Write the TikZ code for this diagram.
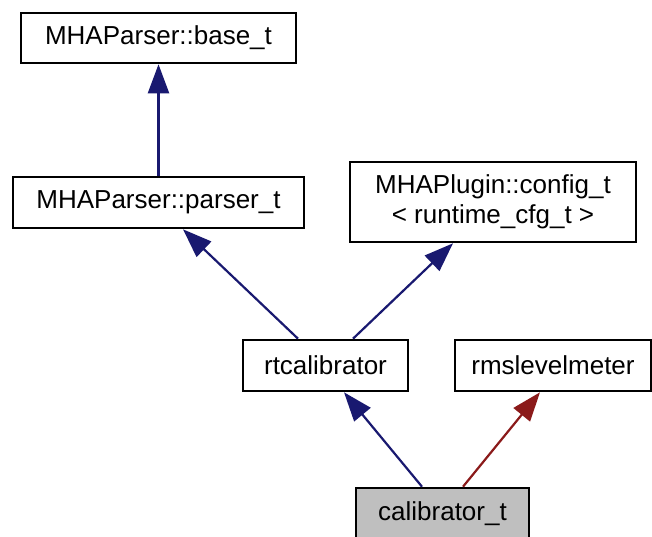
\documentclass[tikz,border=0pt]{standalone}
\usepackage{fontspec}
\setmainfont{Liberation Sans}
\usetikzlibrary{arrows.meta}
\definecolor{edgeblue}{HTML}{191970}
\definecolor{edgered}{HTML}{8B1A1A}
\definecolor{fillgray}{HTML}{BFBFBF}
\tikzset{
  cls/.style={draw=black, line width=2.6pt, fill=white, inner sep=0pt, align=center,
    font=\fontsize{26}{30}\selectfont},
  inh/.style={draw=edgeblue, line width=2.2pt, -{Triangle[length=29pt,width=21pt]}, color=edgeblue},
  use/.style={draw=edgered, line width=2.2pt, -{Triangle[length=29pt,width=21pt]}, color=edgered}
}
\begin{document}
\begin{tikzpicture}[x=1pt,y=-1pt]
\useasboundingbox (0,0) rectangle (652,537);
\fill[white] (0,0) rectangle (652,537);
\node[cls, minimum width=275pt, minimum height=50pt] (base) at (158.5,38) {MHAParser::base\_t};
\node[cls, minimum width=291pt, minimum height=51pt] (parser) at (158.5,202.5) {MHAParser::parser\_t};
\node[cls, minimum width=286pt, minimum height=80pt] (config) at (493,202) {MHAPlugin::config\_t\\{}< runtime\_cfg\_t >};
\node[cls, minimum width=165pt, minimum height=51pt] (rtcal) at (325.5,365.5) {rtcalibrator};
\node[cls, minimum width=196pt, minimum height=51pt] (rms) at (553,365.5) {rmslevelmeter};
\node[cls, fill=fillgray, minimum width=173pt, minimum height=51pt] (calib) at (442.5,513.5) {calibrator\_t};
\draw[inh] (parser.north) -- (base.south);
\draw[inh] ([xshift=-27.5pt]rtcal.north) -- ([xshift=24.5pt]parser.south);
\draw[inh] ([xshift=27.5pt]rtcal.north) -- ([xshift=-40pt]config.south);
\draw[inh] ([xshift=-20.5pt]calib.north) -- ([xshift=18.5pt]rtcal.south);
\draw[use] ([xshift=20.5pt]calib.north) -- ([xshift=-13pt]rms.south);
\end{tikzpicture}
\end{document}
